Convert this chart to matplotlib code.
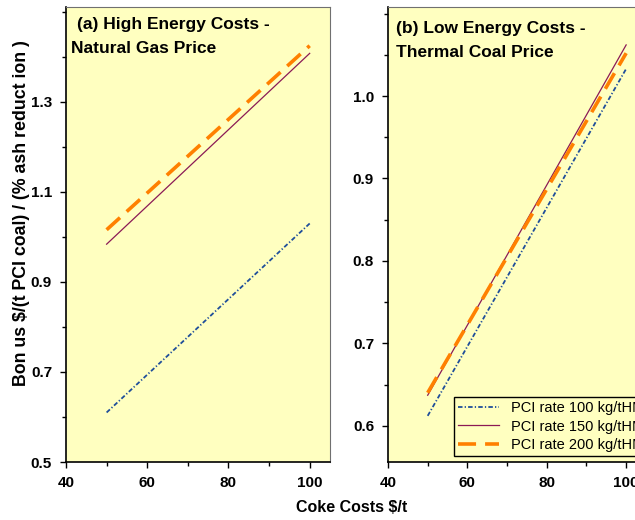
import matplotlib
matplotlib.use("Agg")
import matplotlib.pyplot as plt
from matplotlib.ticker import MultipleLocator

plt.rcParams['font.family'] = ['Liberation Sans', 'DejaVu Sans']

coke = [50, 100]
# Panel (a) High energy costs - natural gas price
a_pci100 = [0.610, 1.030]
a_pci150 = [0.984, 1.408]
a_pci200 = [1.016, 1.425]
# Panel (b) Low energy costs - thermal coal price
b_pci100 = [0.612, 1.033]
b_pci150 = [0.637, 1.062]
b_pci200 = [0.640, 1.052]

a_yticks = [0.5, 0.7, 0.9, 1.1, 1.3]
b_yticks = [0.6, 0.7, 0.8, 0.9, 1.0]
x_ticks = [40, 60, 80, 100]

labels = ['PCI rate 100 kg/tHM', 'PCI rate 150 kg/tHM', 'PCI rate 200 kg/tHM']
bg = '#FFFFC0'
c100 = '#1F4E9A'
c150 = '#8B1A55'
c200 = '#FF8000'

W, H = 635, 520
fig = plt.figure(figsize=(6.35, 5.2), dpi=100)
axa = fig.add_axes([66/W, 58/H, 264/W, 455/H])
axb = fig.add_axes([388/W, 58/H, 258/W, 455/H])

def style(ax):
    ax.set_facecolor(bg)
    ax.set_xlim(40, 105)
    ax.set_xticks(x_ticks)
    ax.xaxis.set_minor_locator(MultipleLocator(10))
    for s in ['left', 'bottom']:
        ax.spines[s].set_color('black')
        ax.spines[s].set_linewidth(1.2)
    for s in ['top', 'right']:
        ax.spines[s].set_color('#707070')
        ax.spines[s].set_linewidth(0.8)
    ax.tick_params(which='major', direction='out', length=4, width=1,
                   labelsize=11, pad=6)
    ax.tick_params(which='minor', direction='out', length=3, width=1)
    for t in ax.get_xticklabels() + ax.get_yticklabels():
        t.set_fontweight('bold')

def draw(ax, d100, d150, d200):
    l1, = ax.plot(coke, d100, color=c100, lw=1.3, dashes=(2.5, 1.2, 0.7, 1.2))
    l2, = ax.plot(coke, d150, color=c150, lw=0.9)
    l3, = ax.plot(coke, d200, color=c200, lw=2.6, dashes=(5, 2.5))
    return [l1, l2, l3]

draw(axa, a_pci100, a_pci150, a_pci200)
axa.set_ylim(0.5, 1.511)
axa.set_yticks(a_yticks)
axa.yaxis.set_minor_locator(MultipleLocator(0.1))
style(axa)

lines = draw(axb, b_pci100, b_pci150, b_pci200)
axb.set_ylim(0.556, 1.108)
axb.set_yticks(b_yticks)
axb.yaxis.set_minor_locator(MultipleLocator(0.05))
style(axb)

tkw = dict(fontsize=12.5, fontweight='bold', va='baseline', ha='left')
fig.text(77/W, 1 - 29/H, '(a) High Energy Costs -', **tkw)
fig.text(71/W, 1 - 53/H, 'Natural Gas Price', **tkw)
fig.text(396/W, 1 - 33/H, '(b) Low Energy Costs -', **tkw)
fig.text(396/W, 1 - 57/H, 'Thermal Coal Price', **tkw)

leg = axb.legend(lines, labels, loc='lower left',
                 bbox_to_anchor=((454 - 388)/258, 6/455), borderaxespad=0,
                 fontsize=10.5, frameon=True, fancybox=False,
                 handlelength=2.8, labelspacing=0.28, borderpad=0.3,
                 handletextpad=0.8)
leg.get_frame().set_facecolor(bg)
leg.get_frame().set_edgecolor('black')
leg.get_frame().set_linewidth(1.0)
leg.get_frame().set_alpha(1)

fig.text(352/W, 1 - 508/H, 'Coke Costs $/t', ha='center', va='center',
         fontsize=11.5, fontweight='bold')
fig.text(22/W, 1 - 213/H, 'Bon us $/(t PCI coal) / (% ash reduct ion )',
         ha='center', va='center', rotation=90, fontsize=12.8, fontweight='bold')

fig.savefig('out.png', dpi=100, facecolor='white')
